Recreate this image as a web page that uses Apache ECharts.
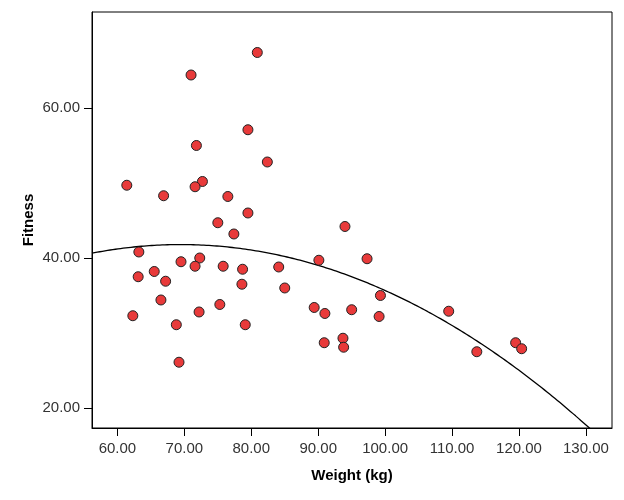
<!DOCTYPE html>
<html>
<head>
<meta charset="utf-8">
<script src="https://cdn.jsdelivr.net/npm/echarts@6/dist/echarts.min.js"></script>
<style>
html,body{margin:0;padding:0;background:#fff;}
#chart{width:624px;height:500px;}
</style>
</head>
<body>
<div id="chart"></div>
<script>
const weight = [80.9, 71.0, 79.5, 71.8, 82.4, 61.4, 72.7, 71.6, 66.9, 76.5, 79.5, 75.0, 77.4, 94.0,
  63.2, 69.5, 72.3, 71.6, 75.8, 78.7, 84.1, 63.1, 65.5, 67.2, 78.6, 85.0, 66.5, 75.3, 62.3, 72.2,
  68.8, 79.1, 69.2, 90.1, 97.3, 99.3, 89.4, 91.0, 95.0, 99.1, 109.5, 90.9, 93.7, 93.8, 113.7, 119.5, 120.4];
const fitness = [67.4, 64.4, 57.1, 55.0, 52.8, 49.7, 50.2, 49.5, 48.3, 48.2, 46.0, 44.7, 43.2, 44.2,
  40.8, 39.5, 40.0, 38.9, 38.9, 38.5, 38.8, 37.5, 38.2, 36.9, 36.5, 36.0, 34.4, 33.8, 32.3, 32.8,
  31.1, 31.1, 26.1, 39.7, 39.9, 35.0, 33.4, 32.6, 33.1, 32.2, 32.9, 28.7, 29.3, 28.1, 27.5, 28.7, 27.9];
const xTicks = [60, 70, 80, 90, 100, 110, 120, 130];
const yTicks = [20, 40, 60];

// quadratic least-squares fit of fitness on weight
function quadFit(xs, ys) {
  const n = xs.length;
  let S = [0,0,0,0,0], T = [0,0,0];
  for (let i = 0; i < n; i++) {
    const x = xs[i], y = ys[i];
    let p = 1;
    for (let k = 0; k < 5; k++) { S[k] += p; if (k < 3) T[k] += p * y; p *= x; }
  }
  const A = [[S[0],S[1],S[2],T[0]],[S[1],S[2],S[3],T[1]],[S[2],S[3],S[4],T[2]]];
  for (let i = 0; i < 3; i++) {
    for (let j = i + 1; j < 3; j++) {
      const f = A[j][i] / A[i][i];
      for (let k = i; k < 4; k++) A[j][k] -= f * A[i][k];
    }
  }
  const c = [0,0,0];
  for (let i = 2; i >= 0; i--) {
    let s = A[i][3];
    for (let k = i + 1; k < 3; k++) s -= A[i][k] * c[k];
    c[i] = s / A[i][i];
  }
  return c;
}
const coef = quadFit(weight, fitness);
const xMin = 56.2, xMax = 133.9;
const fitLine = [];
for (let i = 0; i <= 200; i++) {
  const x = xMin + (xMax - xMin) * i / 200;
  fitLine.push([x, coef[0] + coef[1] * x + coef[2] * x * x]);
}

const chart = echarts.init(document.getElementById('chart'), null, {renderer: 'canvas'});
const font = '"Liberation Sans", Arial, sans-serif';
chart.setOption({
  animation: false,
  backgroundColor: '#fff',
  grid: {left: 92, right: 12, top: 12, bottom: 72, show: true, borderColor: '#000', borderWidth: 1, backgroundColor: 'transparent'},
  xAxis: {
    type: 'value', min: xMin, max: xMax,
    name: 'Weight (kg)', nameLocation: 'middle', nameGap: 40,
    nameTextStyle: {fontFamily: font, fontSize: 15, fontWeight: 'bold', color: '#000'},
    axisLine: {show: true, onZero: false, lineStyle: {color: '#000', width: 1}},
    axisTick: {show: true, length: 8, inside: false, customValues: xTicks, lineStyle: {color: '#000'}},
    axisLabel: {customValues: xTicks, margin: 13, fontFamily: font, fontSize: 15, color: '#333',
      formatter: v => v.toFixed(2)},
    splitLine: {show: false}
  },
  yAxis: {
    type: 'value', min: 17.33, max: 72.8,
    name: 'Fitness', nameLocation: 'middle', nameGap: 56, nameRotate: 90, nameMoveOverlap: false,
    nameTextStyle: {fontFamily: font, fontSize: 15, fontWeight: 'bold', color: '#000'},
    axisLine: {show: true, onZero: false, lineStyle: {color: '#000', width: 1}},
    axisTick: {show: true, length: 8, inside: false, customValues: yTicks, lineStyle: {color: '#000'}},
    axisLabel: {customValues: yTicks, margin: 12, fontFamily: font, fontSize: 15, color: '#333',
      formatter: v => v.toFixed(2)},
    splitLine: {show: false}
  },
  series: [
    {
      type: 'line', data: fitLine, showSymbol: false, symbol: 'none', clip: true,
      lineStyle: {color: '#000', width: 1.3}, silent: true, z: 1
    },
    {
      type: 'scatter', data: weight.map((w, i) => [w, fitness[i]]),
      symbol: 'circle', symbolSize: 10,
      itemStyle: {color: '#e83a3a', borderColor: '#222', borderWidth: 1, opacity: 1}, z: 2
    }
  ]
});
</script>
</body>
</html>
